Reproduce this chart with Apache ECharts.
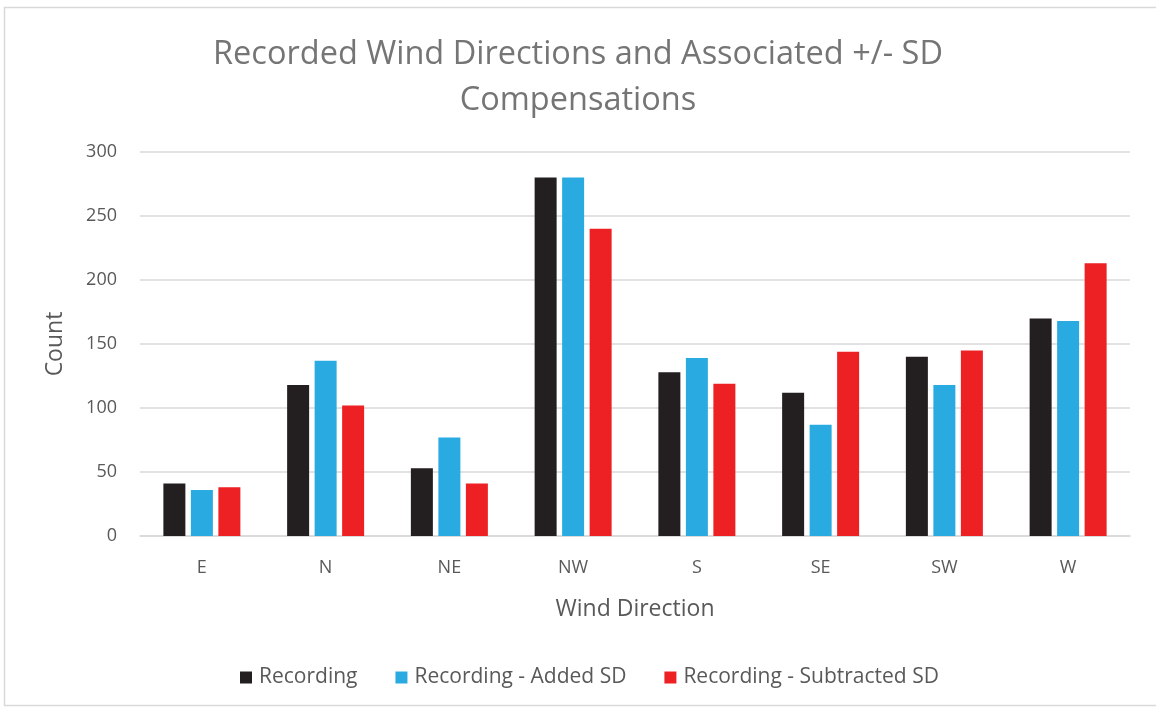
<!DOCTYPE html>
<html>
<head>
<meta charset="utf-8">
<script src="https://cdn.jsdelivr.net/npm/echarts@6/dist/echarts.min.js"></script>
<style>
  html, body { margin: 0; padding: 0; background: #ffffff; }
  #chart { width: 1156px; height: 711px; }
</style>
</head>
<body>
<div id="chart"></div>
<script>
// Wind direction categories and counts per series
const directions = ['E', 'N', 'NE', 'NW', 'S', 'SE', 'SW', 'W'];
const recording = [41, 118, 53, 280, 128, 112, 140, 170];
const recordingAddedSD = [36, 137, 77, 280, 139, 87, 118, 168];
const recordingSubtractedSD = [38, 102, 41, 240, 119, 144, 145, 213];
const yTicks = { min: 0, max: 300, interval: 50 };

const FONT = '"Open Sans", "Noto Sans", sans-serif';
const chart = echarts.init(document.getElementById('chart'), null, { renderer: 'canvas' });

const barBase = { type: 'bar', barWidth: 22, barGap: '25%', barCategoryGap: '38%' };

chart.setOption({
  backgroundColor: '#ffffff',
  animation: false,
  graphic: [{
    type: 'rect',
    shape: { x: 4.5, y: 7.5, width: 1160, height: 698 },
    style: { fill: 'none', stroke: '#d9d9d9', lineWidth: 1.5 },
    silent: true
  }],
  title: {
    text: 'Recorded Wind Directions and Associated +/- SD\nCompensations',
    left: 'center',
    top: 27,
    padding: [5, 12, 5, 0],
    textStyle: { fontFamily: FONT, fontSize: 32.5, fontWeight: 'normal', color: '#757575', lineHeight: 46 }
  },
  legend: {
    bottom: 18,
    left: 235,
    itemWidth: 12,
    itemHeight: 12,
    itemGap: 38,
    icon: 'rect',
    textStyle: { fontFamily: FONT, fontSize: 21, color: '#595959', padding: [0, 0, 0, 2] },
    data: ['Recording', 'Recording - Added SD', 'Recording - Subtracted SD']
  },
  grid: { left: 140, right: 26, top: 152, bottom: 175 },
  xAxis: {
    type: 'category',
    data: directions,
    name: 'Wind Direction',
    nameLocation: 'middle',
    nameGap: 62,
    nameTextStyle: { fontFamily: FONT, fontSize: 23, color: '#595959' },
    axisLine: { lineStyle: { color: '#d9d9d9', width: 1.5 } },
    axisTick: { show: false },
    axisLabel: { fontFamily: FONT, fontSize: 18, color: '#595959', margin: 23 }
  },
  yAxis: {
    type: 'value',
    min: yTicks.min,
    max: yTicks.max,
    interval: yTicks.interval,
    name: 'Count',
    nameLocation: 'middle',
    nameGap: 73,
    nameRotate: 90,
    nameTextStyle: { fontFamily: FONT, fontSize: 23, color: '#595959' },
    axisLine: { show: false },
    axisTick: { show: false },
    axisLabel: { fontFamily: FONT, fontSize: 18, color: '#595959', margin: 23 },
    splitLine: { lineStyle: { color: '#d9d9d9', width: 1.5 } }
  },
  series: [
    Object.assign({ name: 'Recording', data: recording, itemStyle: { color: '#231f20' } }, barBase),
    Object.assign({ name: 'Recording - Added SD', data: recordingAddedSD, itemStyle: { color: '#29abe2' } }, barBase),
    Object.assign({ name: 'Recording - Subtracted SD', data: recordingSubtractedSD, itemStyle: { color: '#ed2024' } }, barBase)
  ]
});
</script>
</body>
</html>
